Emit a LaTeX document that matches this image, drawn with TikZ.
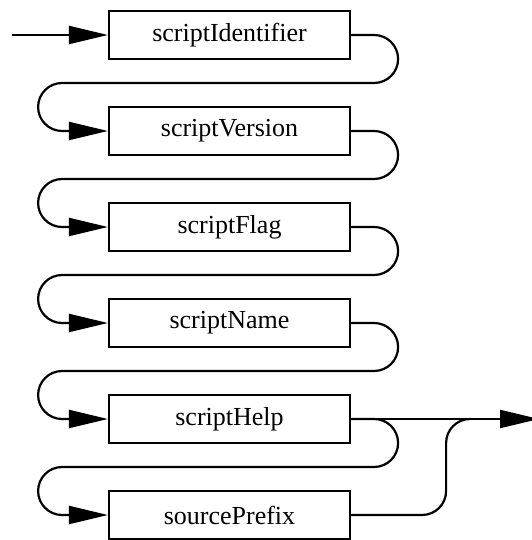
\documentclass[tikz,border=0pt]{standalone}
\usepackage{fontspec}
\setmainfont{Liberation Serif}
\usetikzlibrary{arrows.meta}
\begin{document}
\begin{tikzpicture}[x=1pt,y=1pt,
  box/.style={draw,line width=2.2pt,minimum width=241pt,minimum height=48pt,inner sep=0pt,font=\fontsize{26}{30}\selectfont},
  conn/.style={line width=2.2pt},
  arr/.style={conn,-{Triangle[length=39pt,width=18pt]}}]
\useasboundingbox (0,0) rectangle (531,540);
\node[box] (b1) at (229.5,505) {scriptIdentifier};
\node[box] (b2) at (229.5,409) {scriptVersion};
\node[box] (b3) at (229.5,313) {scriptFlag};
\node[box] (b4) at (229.5,217) {scriptName};
\node[box] (b5) at (229.5,121) {scriptHelp};
\node[box] (b6) at (229.5,25) {sourcePrefix};
\coordinate (start) at (12,505);
\coordinate (end) at (539,121);
\draw[arr] (start) -- (b1.west);
\foreach \a/\b in {b1/b2,b2/b3,b3/b4,b4/b5,b5/b6}{
  \draw[arr] (\a.east) -- ++(23,0) arc[start angle=90,end angle=-90,radius=24]
    -- ++(-312,0) arc[start angle=90,end angle=270,radius=24] -- (\b.west);
}
\draw[arr] (b5.east) -- (end);
\draw[conn] (b6.east) -- ++(71,0) arc[start angle=-90,end angle=0,radius=24]
  -- ++(0,48) arc[start angle=180,end angle=90,radius=24];
\end{tikzpicture}
\end{document}
